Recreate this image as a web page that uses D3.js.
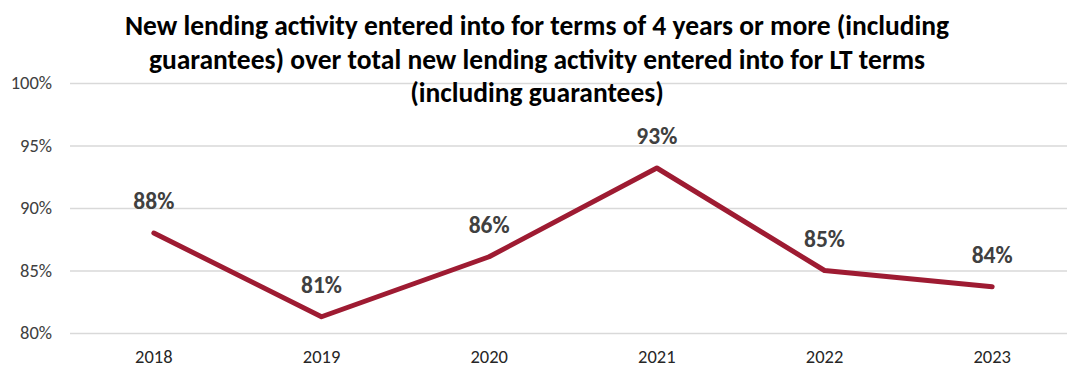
<!DOCTYPE html>
<html>
<head>
<meta charset="utf-8">
<script src="https://cdn.jsdelivr.net/npm/d3@7"></script>
<style>
  body { margin: 0; background: #fff; }
  svg text { font-family: Carlito, "Liberation Sans Narrow", "Open Sans", sans-serif; }
</style>
</head>
<body>
<svg id="chart" width="1067" height="379"></svg>
<script>
const years = ['2018', '2019', '2020', '2021', '2022', '2023'];
const shares = [88.0, 81.3, 86.1, 93.2, 85.0, 83.7];
const pointLabels = ['88%', '81%', '86%', '93%', '85%', '84%'];
const yTicks = [80, 85, 90, 95, 100];
const titleLines = [
  'New lending activity entered into for terms of 4 years or more (including',
  'guarantees) over total new lending activity entered into for LT terms',
  '(including guarantees)'
];

const width = 1067, height = 379;
const margin = {top: 83, right: -9, bottom: 46, left: 70};

const svg = d3.select('svg#chart');

const x = d3.scaleBand()
  .domain(years)
  .range([margin.left, width - margin.right]);

const y = d3.scaleLinear()
  .domain([80, 100])
  .range([height - margin.bottom, margin.top]);

// gridlines + y labels
const yAxis = svg.append('g')
  .attr('transform', 'translate(' + margin.left + ',0)')
  .call(d3.axisLeft(y).tickValues(yTicks)
    .tickSize(-(width - margin.left))
    .tickPadding(18)
    .tickFormat(d => d + '%'));
yAxis.select('.domain').remove();
yAxis.selectAll('.tick line').attr('stroke', '#d9d9d9').attr('stroke-width', 1.5);
yAxis.selectAll('.tick text')
  .attr('fill', '#404040')
  .style('font-size', '18.5px');

// x labels
const xAxis = svg.append('g')
  .attr('transform', 'translate(0,' + (height - margin.bottom) + ')')
  .call(d3.axisBottom(x).tickSize(0).tickPadding(17));
xAxis.select('.domain').remove();
xAxis.selectAll('.tick text')
  .attr('fill', '#262626')
  .style('font-size', '18.5px');

const cx = d => x(d) + x.bandwidth() / 2;

const line = d3.line()
  .x((d, i) => cx(years[i]))
  .y(d => y(d));

svg.append('path')
  .datum(shares)
  .attr('fill', 'none')
  .attr('stroke', '#9e1b32')
  .attr('stroke-width', 5)
  .attr('stroke-linejoin', 'round')
  .attr('stroke-linecap', 'round')
  .attr('d', line);

svg.selectAll('text.point-label')
  .data(shares).enter().append('text')
  .attr('class', 'point-label')
  .attr('x', (d, i) => cx(years[i]))
  .attr('y', d => y(d) - 24)
  .attr('text-anchor', 'middle')
  .attr('fill', '#404040')
  .style('font-size', '23.5px')
  .style('font-weight', 'bold')
  .text((d, i) => pointLabels[i]);

svg.append('g').selectAll('text')
  .data(titleLines).enter().append('text')
  .attr('x', 537)
  .attr('y', (d, i) => 35 + i * 33.5)
  .attr('text-anchor', 'middle')
  .attr('fill', '#000')
  .style('font-size', '27.5px')
  .style('font-weight', 'bold')
  .text(d => d);
</script>
</body>
</html>
